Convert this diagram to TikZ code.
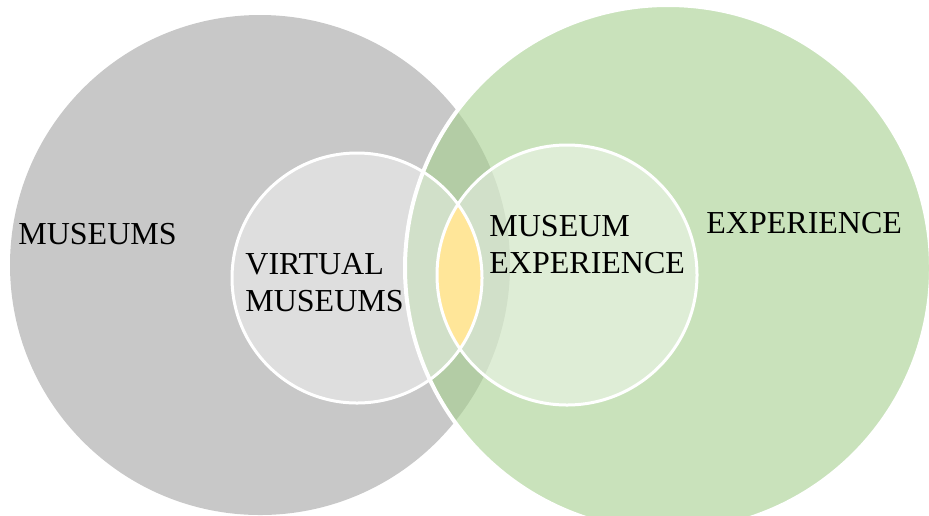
\documentclass[tikz,border=0pt]{standalone}
\usepackage{fontspec}
\setmainfont{Liberation Serif}
\definecolor{bigGray}{RGB}{200,200,200}
\definecolor{bigGreen}{RGB}{165,207,142}
\definecolor{lensYellow}{RGB}{255,230,153}
\tikzset{
  lbl/.style={anchor=north west, inner sep=0pt, align=left, text=black,
    font=\fontsize{16}{18.4}\selectfont},
  smallfill/.style={fill=white, fill opacity=0.4},
  whiteline/.style={draw=white, line width=1.5pt},
}
\begin{document}
\begin{tikzpicture}[x=0.5pt, y=-0.5pt]
  \useasboundingbox (0,0) rectangle (929,515);
  \coordinate (cG) at (260,265);
  \coordinate (cE) at (668,268);
  \coordinate (cV) at (357,278);
  \coordinate (cM) at (567,275);
  % big circles
  \fill[bigGray] (cG) circle[radius=125pt];
  \fill[bigGreen, fill opacity=0.6] (cE) circle[radius=131.5pt];
  \draw[white, line width=2pt] (cE) circle[radius=131.5pt];
  % small circles
  \fill[smallfill] (cV) circle[radius=62.5pt];
  \fill[smallfill] (cM) circle[radius=65pt];
  % lens
  \begin{scope}
    \clip (cV) circle[radius=62.5pt];
    \fill[lensYellow] (cM) circle[radius=65pt];
  \end{scope}
  \draw[whiteline] (cV) circle[radius=62.5pt];
  \draw[whiteline] (cM) circle[radius=65pt];
  % labels
  \node[lbl] (museums) at (18,223) {MUSEUMS};
  \node[lbl] (virtual) at (245,253) {VIRTUAL\\MUSEUMS};
  \node[lbl] (musexp) at (489,215) {MUSEUM\\EXPERIENCE};
  \node[lbl] (experience) at (706,212) {EXPERIENCE};
\end{tikzpicture}
\end{document}
